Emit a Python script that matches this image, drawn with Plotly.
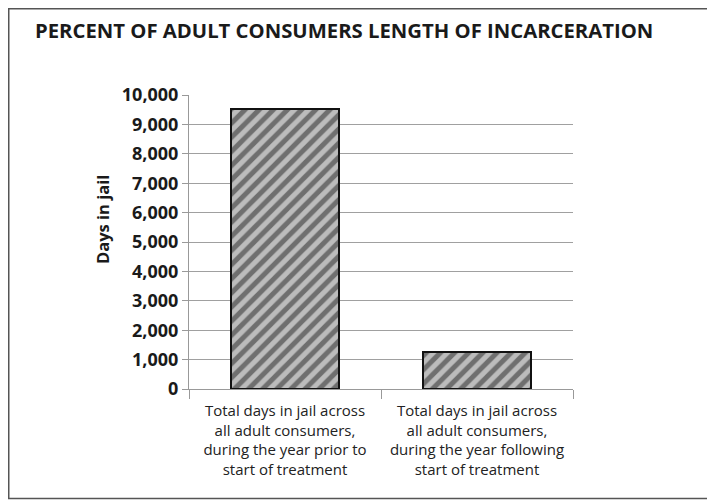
import plotly.graph_objects as go

categories = [
    "Total days in jail across<br>all adult consumers,<br>during the year prior to<br>start of treatment",
    "Total days in jail across<br>all adult consumers,<br>during the year following<br>start of treatment",
]
days_in_jail = [9520, 1260]
y_tick_vals = [0, 1000, 2000, 3000, 4000, 5000, 6000, 7000, 8000, 9000, 10000]
y_tick_text = ["0", "1,000", "2,000", "3,000", "4,000", "5,000", "6,000", "7,000", "8,000", "9,000", "10,000"]
title_text = "PERCENT OF ADULT CONSUMERS LENGTH OF INCARCERATION"
y_title = "Days in jail"

W, H = 715, 500
OFF = 8  # page offset of the figure (default body margin)
L, R, T, B = 189 - OFF, W - (573 - OFF), 95 - OFF, H - (389 - OFF)
pw, ph = W - L - R, H - T - B

def px_x(x):
    return (x - OFF - L) / pw

def px_y(y):
    return (H - B - (y - OFF)) / ph

FONT = "Open Sans"

fig = go.Figure()
fig.add_trace(go.Bar(
    x=categories,
    y=days_in_jail,
    width=0.5625,
    marker=dict(
        color="#bcbcbc",
        line=dict(color="#111111", width=2),
        pattern=dict(shape="/", fgcolor="#222222", bgcolor="#bcbcbc", size=10, solidity=0.5),
    ),
    hoverinfo="skip",
))

fig.update_layout(
    width=W, height=H,
    margin=dict(l=L, r=R, t=T, b=B),
    paper_bgcolor="white",
    plot_bgcolor="white",
    showlegend=False,
    bargap=0,
    title=dict(
        text="<b>" + title_text + "</b>",
        x=(35 - OFF) / W, xanchor="left", xref="container",
        y=1 - (31 - OFF) / H, yanchor="middle", yref="container",
        font=dict(family=FONT, size=20.3, color="#1a1a1a"),
    ),
    xaxis=dict(
        type="category",
        showgrid=False,
        showline=True, linecolor="#999999", linewidth=1,
        ticks="outside", tickson="boundaries", ticklen=9, tickcolor="#999999",
        tickfont=dict(family=FONT, size=15, color="#222222"),
        ticklabelstandoff=8,
        range=[-0.5, 1.5],
    ),
    yaxis=dict(
        range=[0, 10000],
        tickvals=y_tick_vals,
        ticktext=y_tick_text,
        showgrid=True, gridcolor="#a0a0a0", gridwidth=1,
        showline=True, linecolor="#999999", linewidth=1,
        ticks="outside", ticklen=6, tickcolor="#999999",
        tickfont=dict(family=FONT, size=18, color="#1a1a1a", weight="bold"),
        zeroline=False,
    ),
    annotations=[
        dict(
            text="<b>" + y_title + "</b>",
            x=px_x(102), y=px_y(220), xref="paper", yref="paper",
            textangle=-90, showarrow=False,
            xanchor="center", yanchor="middle",
            font=dict(family=FONT, size=16.5, color="#1a1a1a"),
        )
    ],
    shapes=[
        dict(
            type="rect", xref="paper", yref="paper",
            x0=px_x(8.75), x1=px_x(709), y0=px_y(498.5), y1=px_y(8.75),
            line=dict(color="#555555", width=1.5),
            fillcolor="rgba(0,0,0,0)", layer="below",
        )
    ],
)

fig.write_html("out.html")
